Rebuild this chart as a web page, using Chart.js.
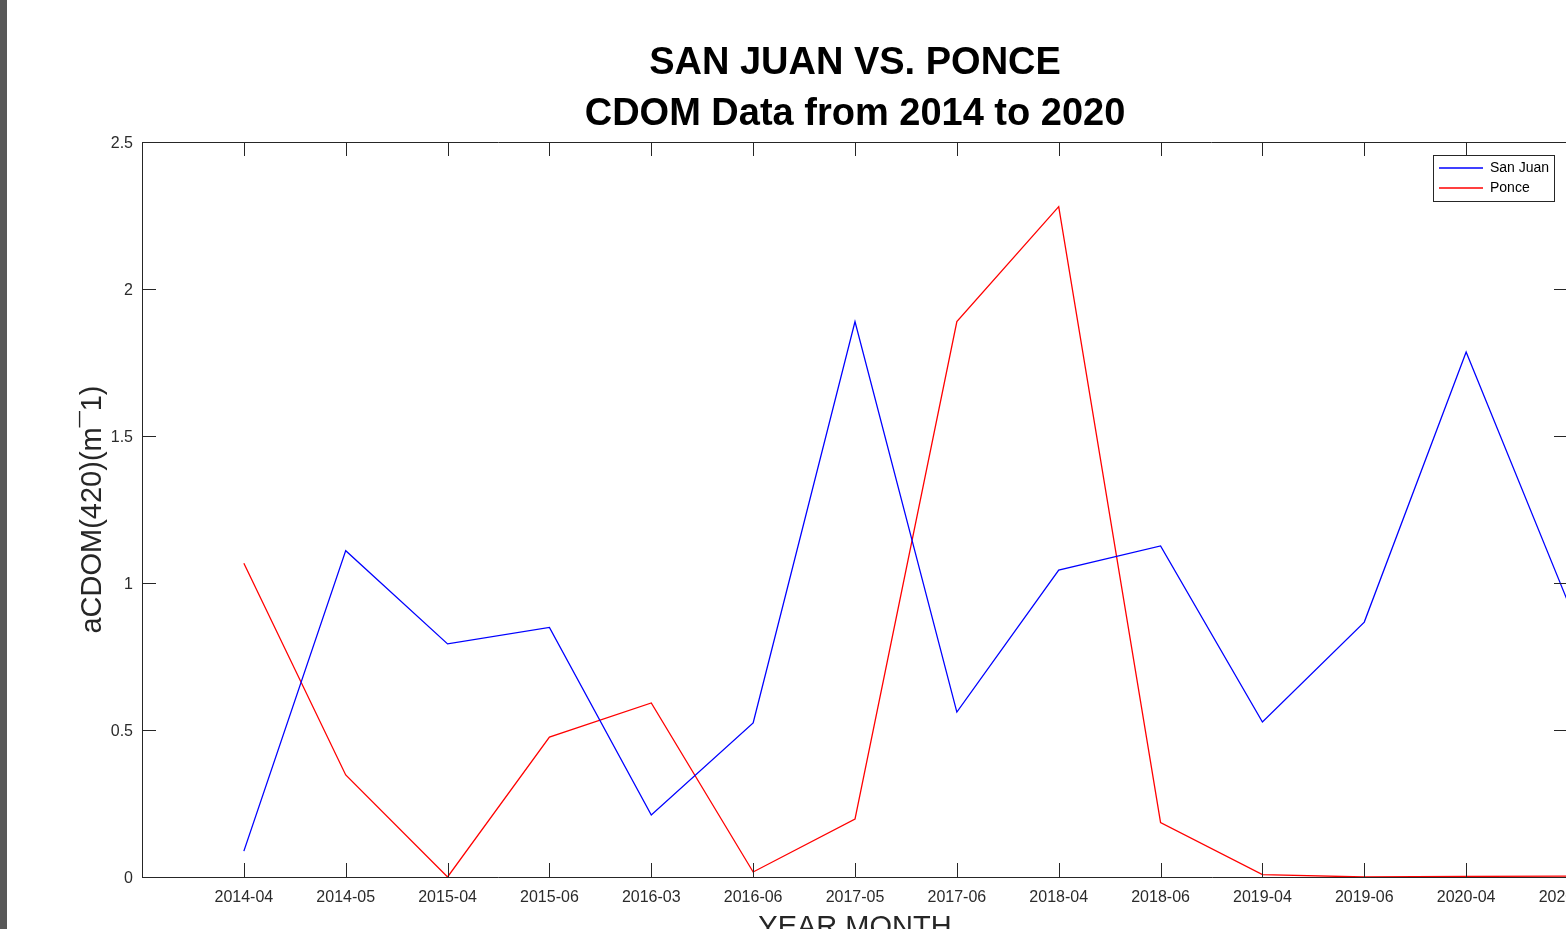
<!DOCTYPE html>
<html>
<head>
<meta charset="utf-8">
<script src="https://cdn.jsdelivr.net/npm/chart.js@4/dist/chart.umd.min.js"></script>
<style>
  html, body { margin: 0; padding: 0; background: #fff; overflow: hidden; width: 1566px; height: 929px; }
  #wrap { position: absolute; left: 0; top: 0; width: 1620px; height: 960px; }
  #edge { position: absolute; left: 0; top: 0; width: 7px; height: 929px; background: #585858; z-index: 2; }
</style>
</head>
<body>
<div id="wrap"><canvas id="c" width="1620" height="960"></canvas></div>
<div id="edge"></div>
<script>
// Sampling months (year-month) and aCDOM(420) values for each site
const categories = ['2014-04', '2014-05', '2015-04', '2015-06', '2016-03', '2016-06', '2017-05',
                    '2017-06', '2018-04', '2018-06', '2019-04', '2019-06', '2020-04', '2020-06'];
const sanJuan = [0.088, 1.110, 0.793, 0.849, 0.211, 0.524, 1.889,
                 0.561, 1.044, 1.126, 0.527, 0.867, 1.786, 0.935];
const ponce   = [1.067, 0.347, 0.000, 0.476, 0.592, 0.017, 0.197,
                 1.889, 2.280, 0.185, 0.008, 0.000, 0.002, 0.003];
const yTicks = [0, 0.5, 1, 1.5, 2, 2.5];

const FONT = "'Liberation Sans', Arial, Helvetica, sans-serif";
const AXIS = '#262626';
const TEXT = '#2b2b2b';
const TICK_LEN = 14;

Chart.defaults.font.family = FONT;

// Axes box: top/right edges plus inward tick marks on all four sides
const axisBox = {
  id: 'axisBox',
  afterDatasetsDraw(chart) {
    const { ctx, chartArea: a, scales: { x, y } } = chart;
    ctx.save();
    ctx.strokeStyle = AXIS;
    ctx.lineWidth = 1;
    ctx.beginPath();
    ctx.moveTo(a.left, a.top + 0.5); ctx.lineTo(a.right, a.top + 0.5);
    ctx.moveTo(a.right - 0.5, a.top); ctx.lineTo(a.right - 0.5, a.bottom);
    x.ticks.forEach(t => {
      const px = Math.round(x.getPixelForValue(t.value)) + 0.5;
      ctx.moveTo(px, a.bottom); ctx.lineTo(px, a.bottom - TICK_LEN);
      ctx.moveTo(px, a.top); ctx.lineTo(px, a.top + TICK_LEN);
    });
    y.ticks.forEach(t => {
      const py = Math.round(y.getPixelForValue(t.value)) + 0.5;
      ctx.moveTo(a.left, py); ctx.lineTo(a.left + TICK_LEN, py);
      ctx.moveTo(a.right, py); ctx.lineTo(a.right - TICK_LEN, py);
    });
    ctx.stroke();
    ctx.restore();
  }
};

// Place the legend in the top-right corner of the plot and frame it
const legendFrame = {
  id: 'legendFrame',
  afterLayout(chart) {
    const lg = chart.legend, a = chart.chartArea;
    const w = lg.width, h = lg.height;
    lg.left = a.right - 135;
    lg.right = lg.left + w;
    lg.top = a.top + 13;
    lg.bottom = lg.top + h;
  },
  afterDraw(chart) {
    const lg = chart.legend;
    const pad = lg.options.labels.padding;
    const rowH = lg.options.labels.font.size + pad;
    const n = lg.legendItems.length;
    const { ctx } = chart;
    ctx.save();
    ctx.strokeStyle = AXIS;
    ctx.lineWidth = 1;
    ctx.strokeRect(Math.round(lg.left) + 0.5, Math.round(lg.top) + 0.5,
                   Math.round(lg.width - 5), Math.round(pad + n * rowH));
    ctx.restore();
  }
};

new Chart(document.getElementById('c'), {
  type: 'line',
  data: {
    datasets: [
      {
        label: 'San Juan',
        data: sanJuan.map((v, i) => ({ x: i + 1, y: v })),
        borderColor: '#0000ff',
        borderWidth: 1.3,
        pointRadius: 0,
        tension: 0,
        fill: false
      },
      {
        label: 'Ponce',
        data: ponce.map((v, i) => ({ x: i + 1, y: v })),
        borderColor: '#ff0000',
        borderWidth: 1.3,
        pointRadius: 0,
        tension: 0,
        fill: false
      }
    ]
  },
  options: {
    responsive: false,
    animation: false,
    layout: { padding: { left: 0, top: 0, right: 52, bottom: 0 } },
    plugins: {
      title: {
        display: true,
        text: ['SAN JUAN VS. PONCE', 'CDOM Data from 2014 to 2020'],
        color: '#000',
        font: { family: FONT, size: 38, weight: 'bold', lineHeight: 51 / 38 },
        padding: { top: 38, bottom: 2 },
        fullSize: false
      },
      legend: {
        position: 'chartArea',
        align: 'start',
        labels: {
          usePointStyle: true,
          pointStyle: 'line',
          pointStyleWidth: 44,
          padding: 6,
          color: '#000',
          font: { family: FONT, size: 14 }
        }
      },
      tooltip: { enabled: false }
    },
    scales: {
      x: {
        type: 'linear',
        position: 'bottom',
        min: 0,
        max: categories.length,
        afterBuildTicks: s => { s.ticks = categories.map((_, i) => ({ value: i + 1 })); },
        afterFit: s => { s.height = 83; },
        ticks: {
          autoSkip: false,
          maxRotation: 0,
          minRotation: 0,
          padding: 11,
          color: TEXT,
          font: { family: FONT, size: 16 },
          callback: v => categories[v - 1] ?? ''
        },
        grid: { display: false, drawTicks: false },
        border: { display: true, color: AXIS, width: 1 },
        title: {
          display: true,
          text: 'YEAR MONTH',
          color: AXIS,
          font: { family: FONT, size: 29 },
          padding: { top: 0, bottom: 15 }
        }
      },
      y: {
        min: 0,
        max: 2.5,
        afterBuildTicks: s => { s.ticks = yTicks.map(v => ({ value: v })); },
        afterFit: s => { s.width = 142; },
        ticks: {
          padding: 9,
          labelOffset: 1.5,
          color: TEXT,
          font: { family: FONT, size: 16 },
          callback: v => String(v)
        },
        grid: { display: false, drawTicks: false },
        border: { display: true, color: AXIS, width: 1 },
        title: {
          display: true,
          text: 'aCDOM(420)(m¯1)',
          color: AXIS,
          font: { family: FONT, size: 29 },
          padding: { top: 76, bottom: 0 }
        }
      }
    }
  },
  plugins: [axisBox, legendFrame]
});
</script>
</body>
</html>
